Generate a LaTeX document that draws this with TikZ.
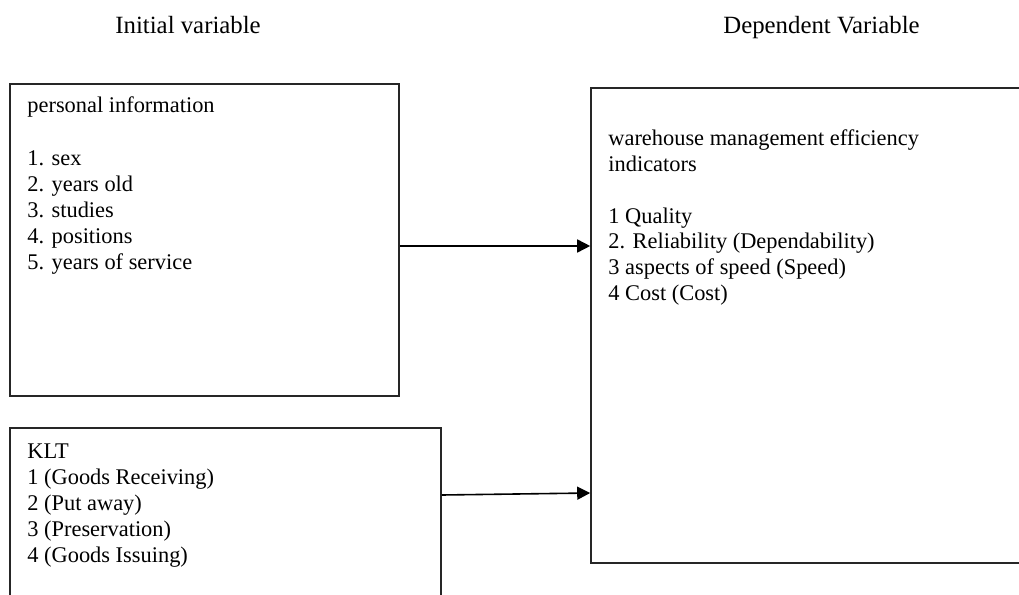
\documentclass[tikz,border=0pt]{standalone}
\usepackage{fontspec}
\setmainfont{Liberation Serif}
\usetikzlibrary{arrows.meta}

\tikzset{
    box/.style={draw=black!85, line width=0.8pt, inner sep=0pt},
    item/.style={inner sep=0pt, anchor=base west, font=\fontsize{11.2}{13}\selectfont},
    heading/.style={inner sep=0pt, anchor=base west, font=\fontsize{12.4}{14}\selectfont},
    link/.style={line width=0.8pt, -{Triangle[length=6.5pt,width=6.5pt]}}
}

\begin{document}
\begin{tikzpicture}[x=0.5pt,y=-0.5pt]

    % cadre de la page
    \useasboundingbox (0,0) rectangle (1019,595);

    % Titres des colonnes
    \node[heading] (tini) at (115,33) {Initial variable};
    \node[heading] (tdep) at (723,33) {Dependent Variable};

    % Les trois cadres
    \node[box, minimum width=194.5pt, minimum height=156pt] (perso) at (204.5,240) {};
    \node[box, minimum width=215.5pt, minimum height=96pt] (klt) at (225.5,524) {};
    \node[box, minimum width=224.5pt, minimum height=237.5pt] (eff) at (815.5,325.5) {};

    % Texte du premier cadre
    \node[item] (perso0) at (27,112) {personal information};
    \foreach \txt [count=\i] in {1. sex, 2. years old, 3. studies, 4. positions, 5. years of service}
        \node[item] (perso\i) at (27,{139+\i*26}) {\txt};

    % Texte du deuxieme cadre
    \node[item] (klt0) at (27,458) {KLT};
    \foreach \txt [count=\i] in {1 (Goods Receiving), 2 (Put away), 3 (Preservation), 4 (Goods Issuing)}
        \node[item] (klt\i) at (27,{458+\i*26}) {\txt};

    % Texte du troisieme cadre
    \node[item] (effa) at (608,145) {warehouse management efficiency};
    \node[item] (effb) at (608,171) {indicators};
    \foreach \txt [count=\i] in {1 Quality, 2. Reliability (Dependability), 3 aspects of speed (Speed), 4 Cost (Cost)}
        \node[item] (eff\i) at (608,{197.5+\i*25.7}) {\txt};

    % Les fleches
    \draw[link] (perso.east |- 0,246) -- (eff.west |- 0,246);
    \draw[link] (klt.east |- 0,495) -- (eff.west |- 0,493);

\end{tikzpicture}
\end{document}
